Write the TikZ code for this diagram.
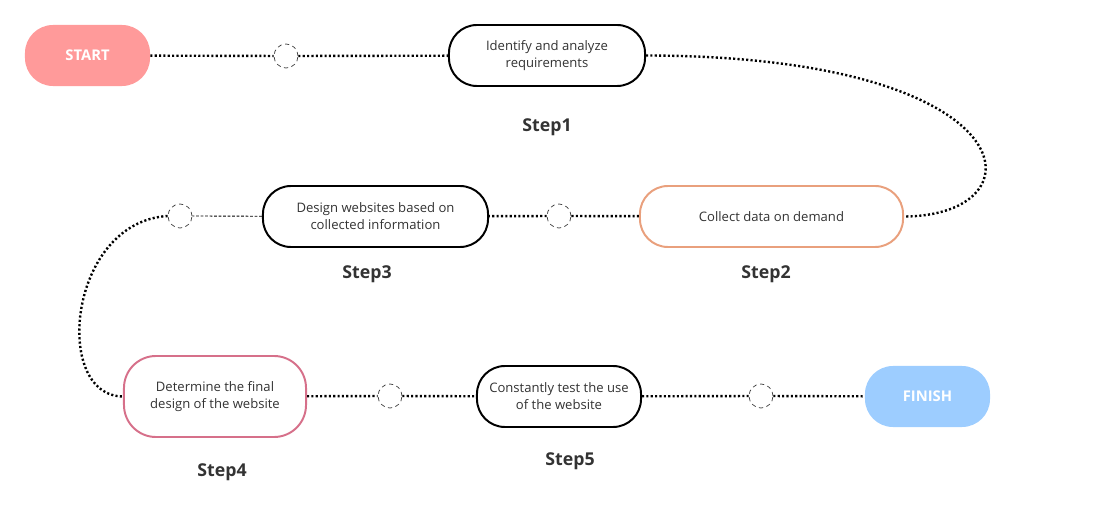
\documentclass[tikz,border=0pt]{standalone}
\usepackage{fontspec}
\setmainfont{Open Sans}
\usepackage{tikz}
\usetikzlibrary{positioning}

\definecolor{txtgray}{HTML}{333333}
\definecolor{startred}{HTML}{FF9A9A}
\definecolor{finishblue}{HTML}{9DCDFF}
\definecolor{orangeline}{HTML}{E9A07D}
\definecolor{pinkline}{HTML}{D6708A}

\tikzset{
  stepbox/.style={draw, line width=1.4pt, rounded corners=0.7cm, minimum height=1.525cm,
    align=center, text=txtgray, font=\fontsize{9.3}{12}\selectfont},
  endbox/.style={draw=none, rounded corners=0.7cm, minimum width=3.125cm, minimum height=1.525cm,
    text=white, font=\fontsize{10.5}{12}\selectfont\bfseries},
  hole/.style={draw=black!75, circle, line width=0.5pt, dash pattern=on 3pt off 2.5pt,
    minimum size=0.6cm, fill=white},
  steplabel/.style={text=txtgray, font=\fontsize{12.6}{14}\selectfont\bfseries},
  link/.style={line width=1.7pt, dash pattern=on 1.5pt off 1.6pt},
}

\begin{document}
\begin{tikzpicture}[x=0.025cm, y=-0.025cm]
  \useasboundingbox (0,0) rectangle (1114,518);

  % Cajas
  \node[endbox, fill=startred] (start) at (87.5,55.5) {START};
  \node[stepbox, minimum width=4.9cm] (s1) at (547,55.5) {Identify and analyze\\requirements};
  \node[stepbox, draw=orangeline, minimum width=6.575cm] (s2) at (771.5,216.5) {Collect data on demand};
  \node[stepbox, minimum width=5.625cm] (s3) at (375.5,216.5) {Design websites based on\\collected information};
  \node[stepbox, draw=pinkline, minimum width=4.55cm, minimum height=2.025cm, rounded corners=0.8cm] (s4) at (215,396.5) {Determine the final\\design of the website};
  \node[stepbox, minimum width=4.1cm] (s5) at (559,396.5) {Constantly test the use\\of the website};
  \node[endbox, fill=finishblue] (finish) at (927.5,396.5) {FINISH};

  % Etiquetas
  \node[steplabel] (l1) at (547,127) {Step1};
  \node[steplabel] (l2) at (766,274) {Step2};
  \node[steplabel] (l3) at (367,274) {Step3};
  \node[steplabel] (l4) at (222,472) {Step4};
  \node[steplabel] (l5) at (570,461) {Step5};

  % Huecos
  \node[hole] (h1) at (286,56) {};
  \node[hole] (h2) at (559,216) {};
  \node[hole] (h3) at (180,216) {};
  \node[hole] (h4) at (390,396) {};
  \node[hole] (h5) at (761,396) {};

  % Conexiones
  \draw[link] (start) -- (h1);
  \draw[link] (h1) -- (s1);
  \draw[link] (s1.east) .. controls (1030,56) and (1045,216) .. (s2.east);
  \draw[link] (s2) -- (h2);
  \draw[link] (h2) -- (s3);
  \draw[line width=0.6pt, dash pattern=on 2pt off 1.2pt] (s3) -- (h3);
  \draw[link] (h3.west) .. controls (68,222) and (52,396) .. (s4.west);
  \draw[link] (s4) -- (h4);
  \draw[link] (h4) -- (s5);
  \draw[link] (s5) -- (h5);
  \draw[link] (h5) -- (finish);
\end{tikzpicture}
\end{document}
